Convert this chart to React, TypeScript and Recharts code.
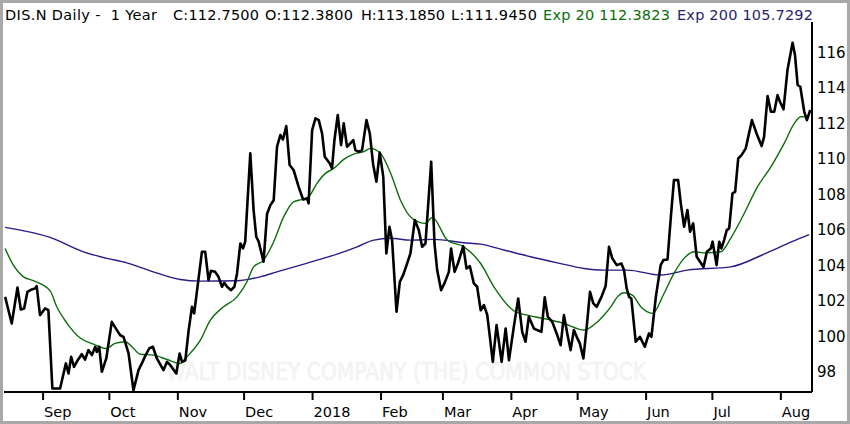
import React from 'react';
import { LineChart, Line, XAxis, YAxis } from 'recharts';

// x values: calendar days counted from 1 Sep 2017
const closeDays = [
  -17.2, -14.2, -11.6, -10.1, -8.6, -7.1, -5.1, -3.6, -2.9, -1.4, 0.9, 2.4, 4.2, 7.7, 10.3, 11.5, 12.7, 14.0, 15.5,
  17.5, 19.0, 20.5, 22.1, 23.6, 24.3, 25.4, 26.6, 28.6, 31.1, 33.4, 34.9, 36.4, 38.7, 40.9, 43.2, 44.7, 46.2, 48.0,
  49.7, 51.5, 54.5, 56.1, 57.6, 60.3, 61.8, 62.9, 64.4, 65.9, 67.4, 68.4, 71.9, 73.4, 74.9, 76.0, 77.9, 79.4, 81.0,
  82.0, 83.3, 85.1, 86.6, 87.8, 89.3, 90.5, 91.5, 93.8, 95.3, 96.5, 97.6, 99.8, 101.4, 102.9, 104.4, 105.9, 107.4,
  108.6, 110.1, 111.6, 113.4, 115.7, 117.7, 119.5, 120.2, 121.8, 123.3, 124.8, 126.3, 127.5, 129.8, 130.8, 131.9,
  133.4, 134.9, 136.1, 137.6, 139.1, 140.4, 141.4, 142.9, 144.4, 146.4, 147.9, 149.4, 150.9, 152.4, 154.0, 155.4,
  156.8, 158.0, 160.0, 161.5, 163.0, 164.8, 166.3, 168.3, 170.1, 171.6, 173.1, 175.7, 177.2, 178.4, 180.2, 181.7,
  183.7, 184.7, 186.3, 187.8, 190.2, 191.7, 193.2, 195.0, 196.5, 198.1, 199.6, 201.1, 203.6, 205.3, 207.6, 209.4,
  210.9, 213.1, 215.1, 216.9, 218.4, 219.9, 222.2, 223.7, 225.6, 227.1, 228.5, 230.5, 232.5, 234.3, 235.8, 237.3,
  238.8, 240.3, 241.9, 243.0, 244.6, 246.1, 247.6, 249.1, 250.6, 252.8, 254.7, 256.2, 257.7, 259.7, 261.8, 263.0,
  264.2, 265.3, 266.3, 268.3, 270.2, 272.4, 274.3, 275.4, 277.4, 279.6, 280.8, 282.7, 284.2, 285.6, 287.5, 288.7,
  290.2, 291.7, 292.9, 294.3, 295.9, 297.4, 299.0, 300.5, 302.3, 303.1, 304.9, 306.1, 307.1, 308.3, 309.5, 310.6,
  312.1, 313.3, 314.7, 316.2, 318.1, 320.9, 323.0, 325.3, 326.4, 328.0, 329.5, 331.0, 332.5, 333.6, 335.2, 337.0,
  339.3, 340.4, 341.6, 342.8, 344.6, 345.8, 347.3,
];
const closeValues = [
  102.22, 100.72, 102.75, 101.51, 101.57, 102.5, 102.64, 102.7, 102.83, 101.19, 101.57, 101.47, 97.06, 97.06, 98.47, 97.9, 98.84, 98.28, 98.62,
  98.99, 98.69, 99.22, 98.94, 99.41, 99.12, 99.41, 98.0, 98.75, 100.81, 100.35, 100.06, 99.97, 99.03, 96.95, 98.09, 98.47, 98.88, 99.31,
  99.41, 98.75, 98.09, 98.56, 98.37, 97.9, 99.03, 98.56, 98.65, 100.35, 101.66, 101.29, 104.76, 104.76, 103.16, 103.69, 103.63, 103.35, 102.79,
  103.01, 102.79, 102.6, 102.79, 103.54, 105.23, 104.95, 105.33, 110.31, 107.11, 105.61, 105.33, 104.2, 106.9, 107.39, 107.67, 110.68, 111.34,
  111.09, 111.85, 109.65, 109.37, 108.42, 107.71, 107.77, 107.49, 111.62, 112.28, 112.18, 111.43, 110.12, 109.74, 109.46, 111.06,
  112.47, 110.77, 112.0, 110.68, 110.87, 111.06, 110.49, 110.4, 110.49, 112.18, 111.43, 109.7, 108.71, 110.35, 109.0, 104.67,
  106.17, 105.42, 101.38, 103.07, 103.45, 104.1, 104.67, 106.55, 105.98, 105.04, 105.23, 109.83, 105.23, 103.73, 102.6, 102.98,
  103.63, 104.95, 103.63, 104.1, 105.08, 103.82, 103.95, 102.98, 102.79, 101.47, 101.76, 101.19, 98.56, 100.63, 98.56, 100.44,
  98.65, 100.53, 102.13, 100.25, 99.69, 101.1, 100.44, 100.35, 100.25, 102.19, 101.1, 100.81, 100.16, 99.5, 101.19, 100.16,
  99.22, 100.35, 99.88, 99.6, 98.75, 100.53, 102.5, 101.85, 101.66, 102.22, 102.85, 105.04, 104.39, 104.01, 104.1, 103.73,
  102.7, 102.22, 102.13, 99.69, 99.97, 99.41, 100.16, 99.97, 102.22, 104.01, 104.29, 104.33, 106.73, 108.8, 108.8, 107.49,
  106.17, 107.11, 105.89, 106.36, 104.48, 104.2, 103.91, 104.76, 104.95, 105.33, 104.01, 105.33, 104.95, 105.42, 105.98, 106.08,
  108.05, 108.14, 110.02, 110.21, 110.59, 112.18, 111.43, 110.72, 111.24, 113.54, 112.65, 112.65, 113.59, 113.22, 112.79, 115.0,
  116.54, 115.85, 114.16, 114.06, 112.65, 112.18, 112.75,
];

const ema20Days = [
  -17.2, -13.5, -8.9, -4.4, 3.2, 6.2, 10.7, 16.8, 22.8, 28.6, 32.6, 37.2, 40.2, 44.0, 50.0, 56.1, 62.1, 65.1, 71.2,
  75.7, 81.7, 87.8, 92.3, 95.3, 99.8, 104.4, 108.9, 113.4, 117.2, 120.2, 124.0, 127.8, 131.6, 136.1, 140.6, 145.2,
  148.2, 152.7, 157.3, 161.8, 167.1, 173.1, 176.2, 183.0, 190.5, 198.1, 204.1, 213.1, 219.2, 226.7, 235.8, 244.9,
  250.9, 253.9, 257.0, 260.0, 263.0, 266.8, 270.6, 275.9, 281.1, 285.6, 290.2, 294.7, 300.0, 306.8, 311.3, 317.4,
  323.4, 329.5, 335.5, 340.1, 343.1, 346.8,
];
const ema20Values = [
  104.95, 104.01, 103.35, 103.13, 102.56, 101.66, 100.76, 99.9, 99.56, 99.31, 99.6, 99.69, 99.41, 98.99, 98.94, 98.69, 98.47, 98.84, 99.78,
  100.91, 101.66, 102.22, 103.07, 103.91, 104.29, 105.33, 106.73, 107.58, 107.71, 107.86, 108.62, 109.18, 109.46, 109.97, 110.27, 110.4,
  110.59, 110.31, 109.2, 107.67, 106.64, 106.36, 106.7, 105.42, 105.04, 104.1, 102.79, 101.44, 101.19, 101.0, 100.72, 100.35,
  100.81, 101.19, 101.66, 102.22, 102.45, 102.32, 101.66, 101.29, 102.41, 103.54, 104.39, 104.76, 104.7, 104.76, 105.52, 106.92,
  108.42, 109.55, 110.87, 112.0, 112.37, 112.38,
];

const ema200Days = [
  -17.2, 3.2, 18.3, 28.9, 37.9, 48.5, 62.1, 71.2, 87.8, 98.3, 105.9, 115.0, 124.0, 133.1, 142.2, 149.7, 157.3,
  166.3, 176.9, 190.5, 198.1, 208.6, 220.7, 232.8, 244.9, 253.9, 264.5, 279.6, 291.7, 311.3, 326.4, 339.0, 346.8,
];
const ema200Values = [
  106.14, 105.57, 104.76, 104.39, 104.14, 103.69, 103.2, 103.11, 103.13, 103.35, 103.63, 103.95, 104.29, 104.63, 105.04, 105.42, 105.52,
  105.42, 105.46, 105.27, 105.19, 104.86, 104.48, 104.14, 103.82, 103.73, 103.73, 103.45, 103.73, 103.91, 104.63, 105.33, 105.73,
];

const monthTickDays = [0, 30, 61, 91, 122, 153, 181, 212, 242, 273, 303, 334];
const monthTickLabels = ['Sep', 'Oct', 'Nov', 'Dec', '2018', 'Feb', 'Mar', 'Apr', 'May', 'Jun', 'Jul', 'Aug'];
const priceTicks = [98, 100, 102, 104, 106, 108, 110, 112, 114, 116];

const titleTexts = ['DIS.N Daily -  1 Year', 'C:112.7500', 'O:112.3800', 'H:113.1850', 'L:111.9450', 'Exp 20 112.3823', 'Exp 200 105.7292'];
const watermarkText = 'WALT DISNEY COMPANY (THE) COMMON STOCK';

const GREEN = '#0b6e0b';
const PURPLE = '#2c1a8a';
const titleColors = ['#000', '#000', '#000', '#000', '#000', GREEN, '#2a1e6e'];
const titleX = [5, 173, 265, 361, 451, 543, 677];
const titleW = [152, 86, 88, 84, 86, 127, 136];

const closeData = closeDays.map((d, i) => ({ day: d, value: closeValues[i] }));
const ema20Data = ema20Days.map((d, i) => ({ day: d, value: ema20Values[i] }));
const ema200Data = ema200Days.map((d, i) => ({ day: d, value: ema200Values[i] }));

const FONT = '"DejaVu Sans", sans-serif';

const XTick = (props: any) => {
  const { x, payload } = props;
  const idx = monthTickDays.indexOf(payload.value);
  return (
    <text x={x + 1} y={417} fontFamily={FONT} fontSize={14.5} fill="#000" textAnchor="start">
      {monthTickLabels[idx]}
    </text>
  );
};

const YTick = (props: any) => {
  const { y, payload } = props;
  return (
    <text x={817} y={y + 5.3} fontFamily={FONT} fontSize={15} fill="#000" textAnchor="start">
      {payload.value}
    </text>
  );
};

export default function App() {
  return (
    <div style={{ position: 'absolute', left: 0, top: 0, width: 850, height: 424, background: '#fff', overflow: 'hidden' }}>
      <svg width={850} height={424} style={{ position: 'absolute', left: 0, top: 0 }}>
        <text x={166} y={380} fontFamily={FONT} fontSize={24} fill="#f5f5f5" stroke="#efefef" strokeWidth={0.5} textLength={480} lengthAdjust="spacingAndGlyphs">
          {watermarkText}
        </text>
      </svg>
      <div style={{ position: 'absolute', left: 0, top: 0 }}>
        <LineChart width={850} height={424} margin={{ top: 22, right: 0, bottom: 0, left: 4 }}>
          <XAxis
            dataKey="day"
            type="number"
            domain={[-17.7, 348.1]}
            allowDataOverflow
            ticks={monthTickDays}
            interval={0}
            height={32}
            axisLine={{ stroke: '#000', strokeWidth: 2 }}
            tickLine={{ stroke: '#000', strokeWidth: 2 }}
            tickSize={8}
            tick={<XTick />}
          />
          <YAxis
            orientation="right"
            type="number"
            domain={[96.86, 117.71]}
            allowDataOverflow
            ticks={priceTicks}
            interval={0}
            width={38}
            axisLine={{ stroke: '#000', strokeWidth: 2 }}
            tickLine={false}
            tick={<YTick />}
          />
          <Line data={ema200Data} dataKey="value" type="monotone" stroke={PURPLE} strokeWidth={1.4} dot={false} isAnimationActive={false} />
          <Line data={ema20Data} dataKey="value" type="monotone" stroke={GREEN} strokeWidth={1.4} dot={false} isAnimationActive={false} />
          <Line data={closeData} dataKey="value" type="linear" stroke="#000" strokeWidth={2.6} strokeLinejoin="round" dot={false} isAnimationActive={false} />
        </LineChart>
      </div>
      <svg width={850} height={424} style={{ position: 'absolute', left: 0, top: 0, pointerEvents: 'none' }}>
        {titleTexts.map((t, i) => (
          <text key={i} x={titleX[i]} y={20} fontFamily={FONT} fontSize={14.5} fill={titleColors[i]} textLength={titleW[i]} lengthAdjust="spacing" style={{ whiteSpace: 'pre' }}>
            {t}
          </text>
        ))}
        <rect x={1.5} y={1.5} width={847} height={421} fill="none" stroke="#a8a8a8" strokeWidth={3} />
      </svg>
    </div>
  );
}
